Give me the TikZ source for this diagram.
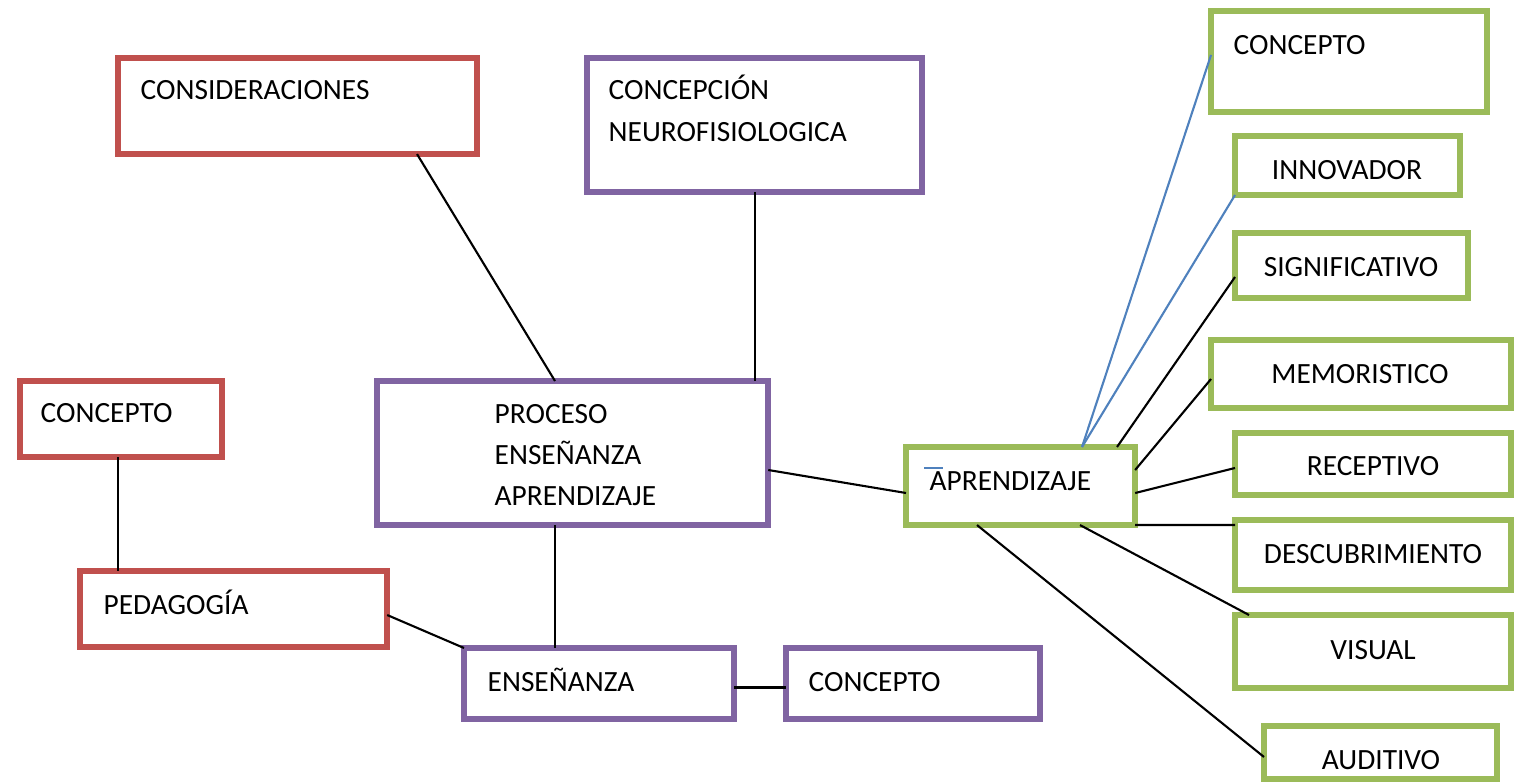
\documentclass[tikz,border=0pt]{standalone}
\usepackage{fontspec}
\setmainfont{Carlito}
\usetikzlibrary{calc}
\definecolor{rojo}{HTML}{C0504D}
\definecolor{morado}{HTML}{8064A2}
\definecolor{verde}{HTML}{9BBB59}
\definecolor{azul}{HTML}{4F81BD}
\tikzset{
  caja/.style={draw, line width=1.7pt, inner sep=0pt, outer sep=0pt, anchor=north west},
  txt/.style={inner sep=0pt, text height=1.38ex, text depth=0pt, font=\fontsize{8.35pt}{10pt}\selectfont},
  linea/.style={line width=0.6pt},
}
\begin{document}
\begin{tikzpicture}[x=0.01cm, y=-0.01cm]
  \useasboundingbox (0,0) rectangle (1522,782);

  % upper boxes
  \node[caja, rojo, minimum width=3.59cm, minimum height=0.96cm] (consid) at (118,58) {};
  \node[txt, anchor=west] (consid-t) at (140,88) {CONSIDERACIONES};
  \node[caja, morado, minimum width=3.35cm, minimum height=1.34cm] (neuro) at (587,58) {};
  \node[txt, anchor=west] (neuro-t1) at (608,88) {CONCEPCIÓN};
  \node[txt, anchor=west] (neuro-t2) at (608,130) {NEUROFISIOLOGICA};

  % left column
  \node[caja, rojo, minimum width=2.02cm, minimum height=0.76cm] (concL) at (20,381) {};
  \node[txt, anchor=west] (concL-t) at (40,411) {CONCEPTO};
  \node[caja, rojo, minimum width=3.07cm, minimum height=0.76cm] (pedag) at (80,571) {};
  \node[txt, anchor=west] (pedag-t) at (103,603) {PEDAGOGÍA};

  % middle
  \node[caja, morado, minimum width=3.91cm, minimum height=1.44cm] (proc) at (377,381) {};
  \node[txt, anchor=west] (proc-t1) at (494,412) {PROCESO};
  \node[txt, anchor=west] (proc-t2) at (494,453) {ENSEÑANZA};
  \node[txt, anchor=west] (proc-t3) at (494,494) {APRENDIZAJE};
  \node[caja, morado, minimum width=2.70cm, minimum height=0.71cm] (ensen) at (464,648) {};
  \node[txt, anchor=west] (ensen-t) at (487,680) {ENSEÑANZA};
  \node[caja, morado, minimum width=2.54cm, minimum height=0.71cm] (concB) at (786,648) {};
  \node[txt, anchor=west] (concB-t) at (808,680) {CONCEPTO};

  % aprendizaje and its kinds
  \node[caja, verde, minimum width=2.29cm, minimum height=0.78cm] (aprend) at (906,447) {};
  \node[txt, anchor=west] (aprend-t) at (929,479) {APRENDIZAJE};
  \draw[azul, line width=0.8pt] (924,468) -- (943,468);

  \node[caja, verde, minimum width=2.76cm, minimum height=1.01cm] (concR) at (1211,11) {};
  \node[txt, anchor=west] (concR-t) at (1233,43) {CONCEPTO};
  \node[caja, verde, minimum width=2.25cm, minimum height=0.59cm] (innov) at (1235,136) {};
  \node[txt] (innov-t) at (1347,168) {INNOVADOR};
  \node[caja, verde, minimum width=2.33cm, minimum height=0.65cm] (signif) at (1235,233) {};
  \node[txt] (signif-t) at (1351,265) {SIGNIFICATIVO};
  \node[caja, verde, minimum width=3.00cm, minimum height=0.68cm] (memor) at (1211,340) {};
  \node[txt] (memor-t) at (1360,372) {MEMORISTICO};
  \node[caja, verde, minimum width=2.76cm, minimum height=0.62cm] (recep) at (1235,433) {};
  \node[txt] (recep-t) at (1373,464) {RECEPTIVO};
  \node[caja, verde, minimum width=2.76cm, minimum height=0.70cm] (descub) at (1235,520) {};
  \node[txt] (descub-t) at (1373,552) {DESCUBRIMIENTO};
  \node[caja, verde, minimum width=2.76cm, minimum height=0.73cm] (visual) at (1235,615) {};
  \node[txt] (visual-t) at (1373,648) {VISUAL};
  \node[caja, verde, minimum width=2.33cm, minimum height=0.53cm] (audit) at (1264,726) {};
  \node[txt] (audit-t) at (1381,758) {AUDITIVO};

  % connectors
  \draw[linea] ($(consid.south west)+(299,0)$) -- ($(proc.north west)+(178,0)$);
  \draw[linea] ($(neuro.south west)+(168,0)$) -- ($(proc.north west)+(378,0)$);
  \draw[linea] ($(concL.south west)+(98,0)$) -- ($(pedag.north west)+(38,0)$);
  \draw[linea] ($(proc.south west)+(178,0)$) -- ($(ensen.north west)+(91,0)$);
  \draw[linea] ($(pedag.north east)+(0,44)$) -- (ensen.north west);
  \draw[linea] ($(ensen.east)+(0,4)$) -- ($(concB.west)+(0,4)$);
  \draw[linea] ($(proc.north east)+(0,89)$) -- ($(aprend.north west)+(0,46)$);

  \draw[azul, linea] ($(aprend.north west)+(176,0)$) -- ($(concR.north west)+(0,44)$);
  \draw[azul, linea] ($(aprend.north west)+(176,0)$) -- (innov.south west);
  \draw[linea] ($(aprend.north west)+(211,0)$) -- ($(signif.north west)+(0,44)$);
  \draw[linea] ($(aprend.north east)+(0,23)$) -- ($(memor.north west)+(0,39)$);
  \draw[linea] ($(aprend.north east)+(0,46)$) -- ($(recep.north west)+(0,35)$);
  \draw[linea] (aprend.south east) -- ($(descub.north west)+(0,5)$);
  \draw[linea] ($(aprend.south west)+(174,0)$) -- ($(visual.north west)+(14,0)$);
  \draw[linea] ($(aprend.south west)+(71,0)$) -- ($(audit.north west)+(0,31)$);
\end{tikzpicture}
\end{document}
